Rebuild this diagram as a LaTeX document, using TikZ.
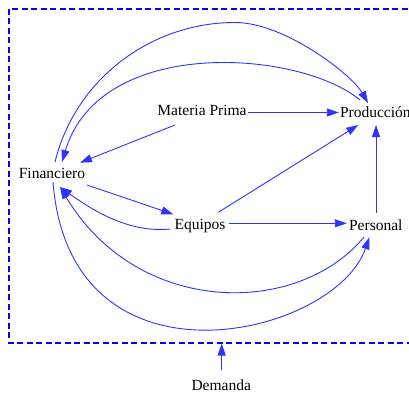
\documentclass[tikz,border=0pt]{standalone}
\usepackage{fontspec}
\setmainfont{Liberation Serif}
\usetikzlibrary{arrows.meta}
\definecolor{linkblue}{RGB}{50,50,255}
\definecolor{frameblue}{RGB}{0,0,255}
\begin{document}
\begin{tikzpicture}[x=1pt,y=-1pt,
  var/.style={inner sep=1pt, text height=10pt, text depth=3pt,
    font=\fontsize{15.5}{18}\selectfont},
  link/.style={draw=linkblue, line width=0.9pt,
    -{Triangle[length=12pt,width=8pt]}},
  boundary/.style={draw=frameblue, line width=1.7pt, dash pattern=on 6pt off 3.5pt}]
\useasboundingbox (0,0) rectangle (409,393);
\clip (0,0) rectangle (409,393);

% model boundary
\draw[boundary] (9,9) rectangle (440,342.7);

% variables
\node[var] (mp)   at (202,112.5) {Materia Prima};
\node[var] (prod) at (375.3,114) {Producción};
\node[var] (fin)  at (52,175)    {Financiero};
\node[var] (eq)   at (200,226)   {Equipos};
\node[var] (pers) at (375.8,226.5) {Personal};
\node[var] (dem)  at (221.2,387) {Demanda};
\coordinate (gate) at (221.7,343.5);

% straight links
\draw[link] (mp.east) -- (mp.east -| prod.west);
\draw[link] ([shift={(-27,12.5)}]mp.center) -- ([shift={(28,-12.3)}]fin.center);
\draw[link] ([shift={(35,10)}]fin.center) -- ([shift={(-26.7,-11.7)}]eq.center);
\draw[link] ([shift={(18.3,-13.7)}]eq.center) -- ([shift={(-17,11)}]prod.center);
\draw[link] ([shift={(29.3,-2.7)}]eq.center) -- ([shift={(-29,-3.2)}]pers.center);
\draw[link] ([shift={(0.2,-13.2)}]pers.center) -- ([shift={(0.7,11)}]prod.center);
\draw[link] ([shift={(0.5,-17)}]dem.center) -- (gate);

% curved links
\draw[link] ([shift={(-30,3)}]eq.center)
  .. controls (130,233) and (95,212) .. ([shift={(8,12)}]fin.center);
\draw[link] ([shift={(3,-13)}]fin.center)
  .. controls (75,80) and (150,22.5) .. (235,22.5)
  .. controls (285,22.5) and (352,75) .. ([shift={(-7.3,-11)}]prod.center);
\draw[link] ([shift={(-15.3,-14)}]prod.center)
  .. controls (300,50) and (100,35) .. ([shift={(10,-13)}]fin.center);
\draw[link] ([shift={(1,7)}]fin.center)
  .. controls (70,400) and (335,337) .. ([shift={(-6.5,10.8)}]pers.center);
\draw[link] ([shift={(-11.8,10.5)}]pers.center)
  .. controls (298,317) and (138,317) .. ([shift={(8,12)}]fin.center);
\end{tikzpicture}
\end{document}
